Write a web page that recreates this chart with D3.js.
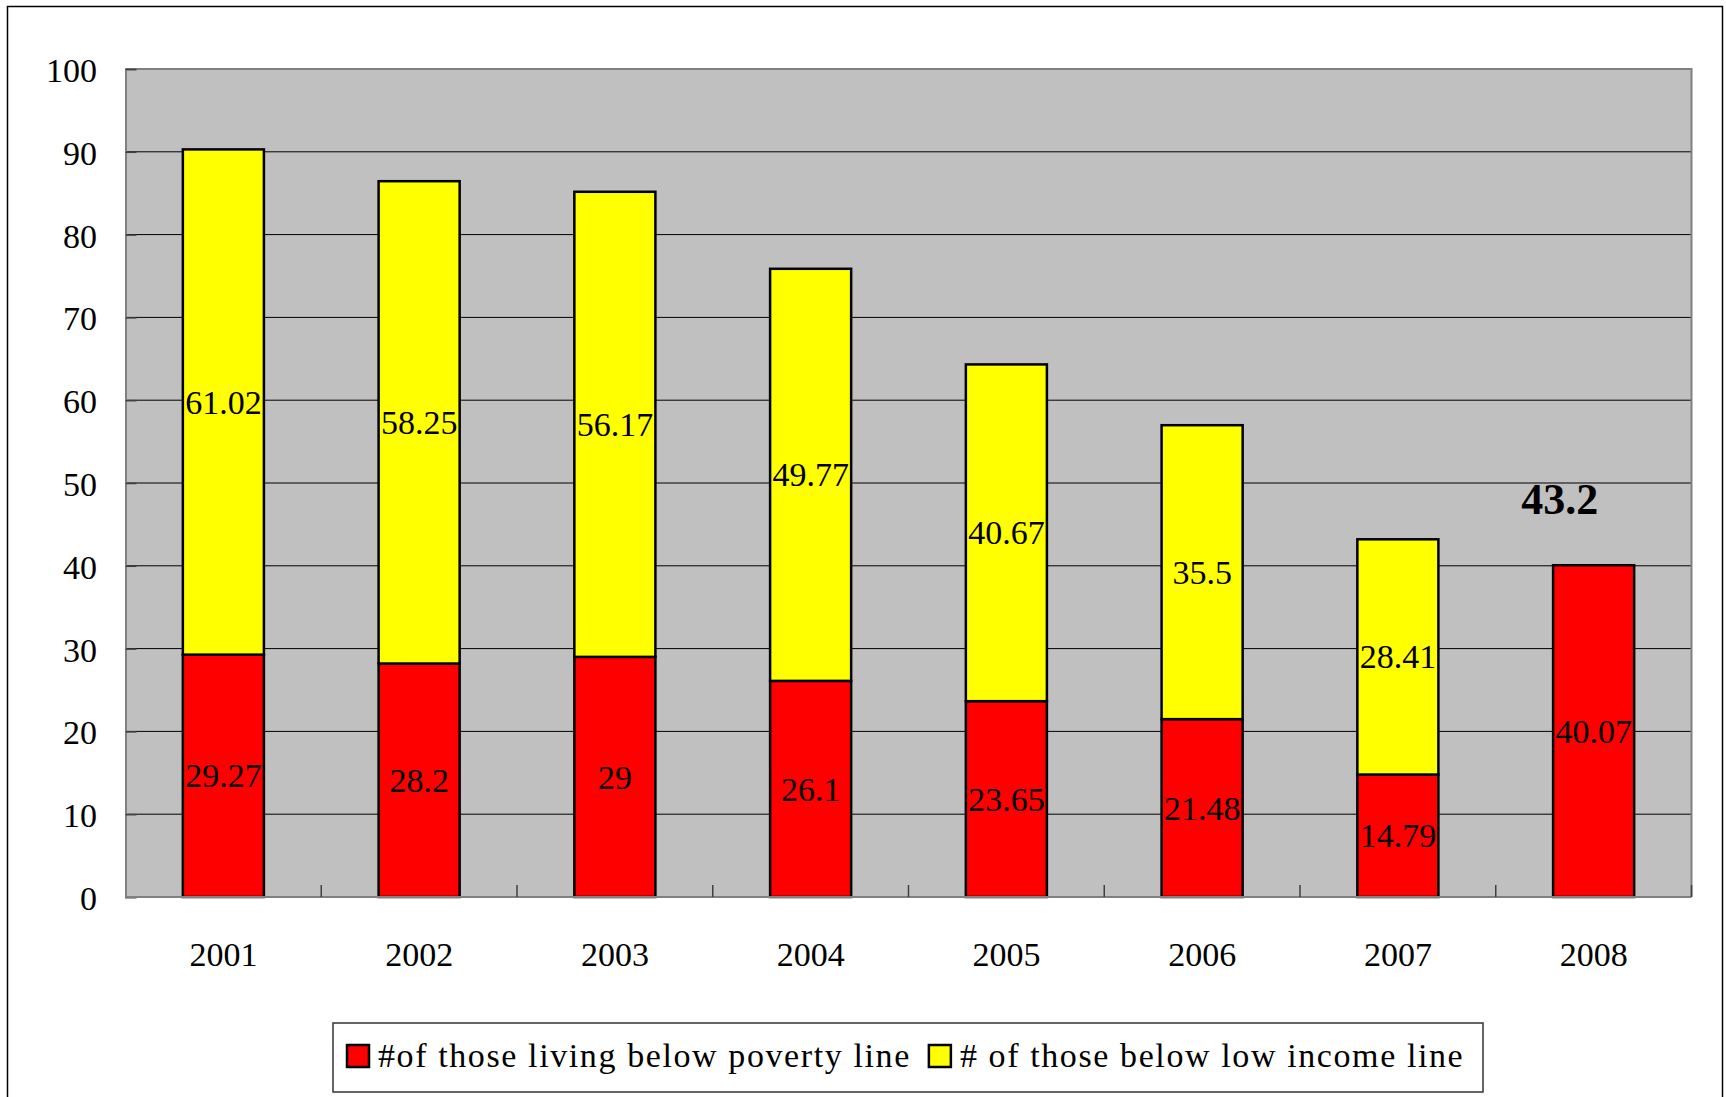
<!DOCTYPE html>
<html>
<head>
<meta charset="utf-8">
<script src="https://cdn.jsdelivr.net/npm/d3@7"></script>
<style>
    body { margin: 0; background: #ffffff; }
    #chart { width: 1726px; height: 1097px; }
    text { font-family: "Liberation Serif", "Times New Roman", serif; fill: #000; }
</style>
</head>
<body>
<div id="chart"></div>
<script>
// Chart values
const years = ["2001", "2002", "2003", "2004", "2005", "2006", "2007", "2008"];
const povertyLine = [29.27, 28.2, 29, 26.1, 23.65, 21.48, 14.79, 40.07];
const lowIncomeLine = [61.02, 58.25, 56.17, 49.77, 40.67, 35.5, 28.41, 0];
const yTicks = [0, 10, 20, 30, 40, 50, 60, 70, 80, 90, 100];
const seriesNames = ["#of those living below poverty line", "# of those below low income line"];
const seriesColors = ["#FF0000", "#FFFF00"];
const calloutYear = "2008";
const calloutValue = 43.2;

class StackedBars {
    constructor(targetElementName, margin={ top: 69, right: 34.5, bottom: 200, left: 125.5 }) {
        // Find the target element and clear it
        this.targetElement = d3.select(`#${targetElementName}`);
        this.targetElement.html("");

        this.margin = margin;
        this.width = parseInt(this.targetElement.style('width'), 10);
        this.height = parseInt(this.targetElement.style('height'), 10);

        this.plotWidth = this.width - margin.left - margin.right;
        this.plotHeight = this.height - margin.top - margin.bottom;

        // Build rows for d3.stack from the arrays
        this.rows = years.map((year, i) => ({ year: year,
                                              poverty: povertyLine[i],
                                              lowIncome: lowIncomeLine[i] }));
    }

    initPlot() {
        this.root = this.targetElement.append("svg")
                                      .attr("width", this.width)
                                      .attr("height", this.height);

        // Outer chart frame
        this.root.append("rect")
                 .attr("x", 7.5)
                 .attr("y", 6.5)
                 .attr("width", 1715)
                 .attr("height", 1110)
                 .style("fill", "#ffffff")
                 .style("stroke", "#000000")
                 .style("stroke-width", 1.5);

        this.svg = this.root.append("g")
                            .attr("transform", `translate(${this.margin.left}, ${this.margin.top})`);
    }

    drawPlot() {
        let w = this.plotWidth, h = this.plotHeight;

        // Scales
        let x = d3.scaleBand()
                  .domain(years)
                  .range([0, w])
                  .paddingInner(0.586)
                  .paddingOuter(0.293);

        let y = d3.scaleLinear()
                  .domain([0, 100])
                  .range([h, 0]);

        // Grey plot area
        this.svg.append("rect")
                .attr("width", w)
                .attr("height", h)
                .style("fill", "#C0C0C0");

        // Gridlines
        this.svg.append("g")
                .selectAll("line")
                .data(yTicks.filter(t => t > 0 && t < 100))
                .join("line")
                .attr("x1", 0)
                .attr("x2", w)
                .attr("y1", d => y(d))
                .attr("y2", d => y(d))
                .style("stroke", "#000000")
                .style("stroke-width", 1);

        // Plot border (top and right)
        this.svg.append("path")
                .attr("d", `M0,${y(100)}H${w}V${h}`)
                .style("fill", "none")
                .style("stroke", "#808080")
                .style("stroke-width", 2);

        // Stacked bars
        let stacked = d3.stack().keys(["poverty", "lowIncome"])(this.rows);

        let layers = this.svg.selectAll("g.layer")
                             .data(stacked)
                             .join("g")
                             .attr("class", "layer")
                             .style("fill", (d, i) => seriesColors[i]);

        layers.selectAll("rect")
              .data(d => d.filter(s => s[1] - s[0] > 0))
              .join("rect")
              .attr("x", d => x(d.data.year))
              .attr("y", d => y(d[1]))
              .attr("width", x.bandwidth())
              .attr("height", d => y(d[0]) - y(d[1]))
              .style("stroke", "#000000")
              .style("stroke-width", 2.5);

        // Value labels centred in each segment
        layers.each(function(layer) {
            d3.select(this)
              .selectAll("text")
              .data(layer.filter(s => s[1] - s[0] > 0))
              .join("text")
              .attr("x", d => x(d.data.year) + x.bandwidth() / 2)
              .attr("y", d => y((d[0] + d[1]) / 2))
              .attr("dy", "0.34em")
              .attr("text-anchor", "middle")
              .style("font-size", "34px")
              .style("fill", "#000000")
              .text(d => d.data[layer.key]);
        });

        // Bold callout above the last bar
        this.svg.append("text")
                .attr("x", x(calloutYear) + x.bandwidth() / 2 - 34)
                .attr("y", y(calloutValue) - 25)
                .attr("text-anchor", "middle")
                .style("font-size", "44px")
                .style("font-weight", "bold")
                .text(calloutValue);

        // Y axis: ticks point inwards, grey line
        let yAxis = this.svg.append("g")
                            .call(d3.axisRight(y).tickValues(yTicks).tickSize(11).tickFormat(""));
        yAxis.select(".domain").style("stroke", "#808080").style("stroke-width", 2);
        yAxis.selectAll(".tick line").style("stroke", "#404040").style("stroke-width", 1.5);

        this.svg.append("g")
                .selectAll("text")
                .data(yTicks)
                .join("text")
                .attr("x", -28.5)
                .attr("y", d => y(d))
                .attr("dy", "0.38em")
                .attr("text-anchor", "end")
                .style("font-size", "34px")
                .text(d => d);

        // X axis: line at bottom, ticks between categories pointing up
        this.svg.append("line")
                .attr("x1", 0)
                .attr("x2", w)
                .attr("y1", h)
                .attr("y2", h)
                .style("stroke", "#808080")
                .style("stroke-width", 2);

        let step = x.step();
        this.svg.append("g")
                .selectAll("line")
                .data(years.map((d, i) => i + 1))
                .join("line")
                .attr("x1", i => x(years[0]) - x.paddingOuter() * step + i * step)
                .attr("x2", i => x(years[0]) - x.paddingOuter() * step + i * step)
                .attr("y1", h)
                .attr("y2", h - 12)
                .style("stroke", "#404040")
                .style("stroke-width", 1.5);

        this.svg.append("g")
                .selectAll("text")
                .data(years)
                .join("text")
                .attr("x", d => x(d) + x.bandwidth() / 2)
                .attr("y", h + 69)
                .attr("text-anchor", "middle")
                .style("font-size", "34px")
                .text(d => d);
    }

    drawLegend() {
        let legend = this.root.append("g");

        legend.append("rect")
              .attr("x", 333)
              .attr("y", 1023)
              .attr("width", 1150)
              .attr("height", 69)
              .style("fill", "#ffffff")
              .style("stroke", "#333333")
              .style("stroke-width", 1.5);

        // Lay out items one after another
        let cursor = 347;
        seriesNames.forEach((name, i) => {
            legend.append("rect")
                  .attr("x", cursor)
                  .attr("y", 1045)
                  .attr("width", 22)
                  .attr("height", 22)
                  .style("fill", seriesColors[i])
                  .style("stroke", "#000000")
                  .style("stroke-width", 2.5);

            let label = legend.append("text")
                              .attr("x", cursor + 31)
                              .attr("y", 1067)
                              .style("font-size", "34px")
                              .style("letter-spacing", "1.6px")
                              .text(name);

            cursor = cursor + 31 + label.node().getComputedTextLength() + 18;
        });
    }
}

let chart = new StackedBars("chart");
chart.initPlot();
chart.drawPlot();
chart.drawLegend();
</script>
</body>
</html>
